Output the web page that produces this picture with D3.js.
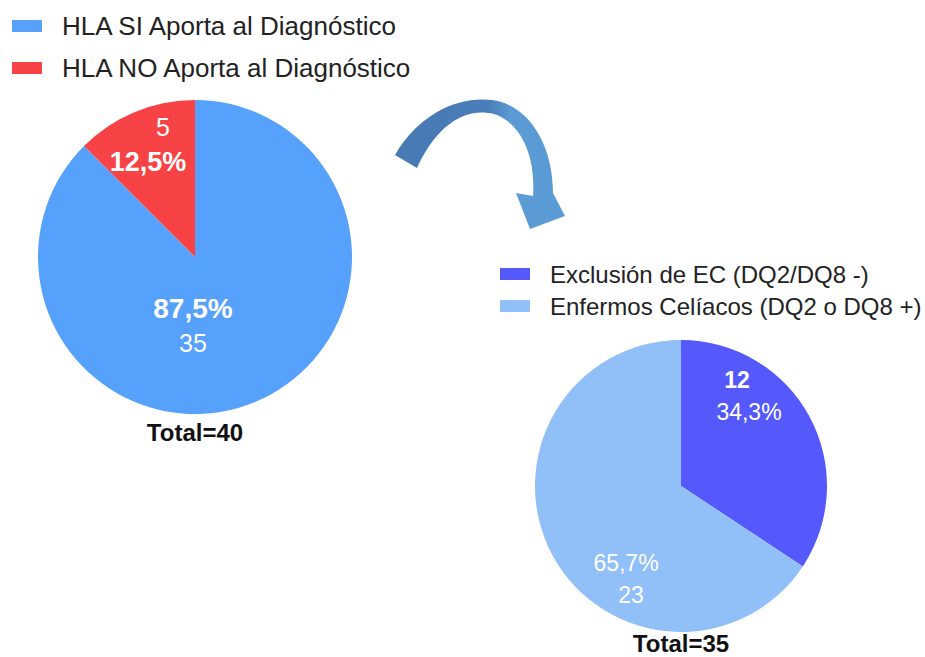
<!DOCTYPE html>
<html>
<head>
<meta charset="utf-8">
<script src="https://cdn.jsdelivr.net/npm/d3@7"></script>
<style>
  body { margin: 0; background: #ffffff; }
  svg text { font-family: "Liberation Sans", Arial, sans-serif; }
</style>
</head>
<body>
<svg id="chart"></svg>
<script>
// first pie: does HLA help the diagnosis
var hlaCategories = ["HLA SI Aporta al Diagnóstico", "HLA NO Aporta al Diagnóstico"];
var hlaValues = [35, 5];
var hlaColors = ["#55a1fc", "#f84346"];

// second pie: the 35 patients where HLA helped
var ecCategories = ["Exclusión de EC (DQ2/DQ8 -)", "Enfermos Celíacos (DQ2 o DQ8 +)"];
var ecValues = [12, 23];
var ecColors = ["#5558fb", "#91bff8"];

var width = 925;
var height = 657;

var svg = d3.select("#chart")
    .attr("width", width)
    .attr("height", height)

svg.append("rect")
    .attr("width", width)
    .attr("height", height)
    .attr("fill", "#ffffff")

var pctText = function(v, total)
{
    return (v / total * 100).toFixed(1).replace(".", ",") + "%";
}

// labels sit where the original put them, offsets from the pie centre
// order: "cp" = count then percent, "pc" = percent then count
var drawPie = function(values, colors, cx, cy, r, labelPos, totalY)
{
    var total = d3.sum(values);
    var pie = d3.pie().sort(null).value(function(d){ return d; });
    var arc = d3.arc().innerRadius(0).outerRadius(r);
    var g = svg.append("g").attr("transform", "translate(" + cx + "," + cy + ")");

    var slices = pie(values);
    g.selectAll("path")
        .data(slices)
        .enter()
        .append("path")
        .attr("d", arc)
        .attr("fill", function(d, i){ return colors[i]; })

    slices.forEach(function(s, i)
    {
        var lp = labelPos[i];
        var lines = lp.order == "cp"
            ? [String(s.data), pctText(s.data, total)]
            : [pctText(s.data, total), String(s.data)];
        lines.forEach(function(t, j)
        {
            g.append("text")
                .attr("x", lp.pts[j][0])
                .attr("y", lp.pts[j][1])
                .attr("text-anchor", "middle")
                .attr("dominant-baseline", "central")
                .attr("fill", "#ffffff")
                .attr("font-size", lp.size[j])
                .attr("font-weight", lp.bold[j] ? "bold" : "normal")
                .text(t)
        })
    })

    svg.append("text")
        .attr("x", cx)
        .attr("y", totalY)
        .attr("text-anchor", "middle")
        .attr("dominant-baseline", "central")
        .attr("font-size", 24)
        .attr("font-weight", "bold")
        .attr("fill", "#111111")
        .text("Total=" + total)
}

var drawLegend = function(categories, colors, x, y, step, fontSize)
{
    categories.forEach(function(c, i)
    {
        svg.append("rect")
            .attr("x", x)
            .attr("y", y + i * step - 6)
            .attr("width", 30)
            .attr("height", 12)
            .attr("fill", colors[i])
        svg.append("text")
            .attr("x", x + 50)
            .attr("y", y + i * step)
            .attr("dominant-baseline", "central")
            .attr("font-size", fontSize)
            .attr("fill", "#222222")
            .text(c)
    })
}

drawLegend(hlaCategories, hlaColors, 12, 26, 42, 26);
drawPie(hlaValues, hlaColors, 195, 257, 157, [
    { order: "pc", pts: [[-2, 51], [-2, 86]], size: [28, 25], bold: [true, false] },
    { order: "cp", pts: [[-32, -130], [-47, -95]], size: [25, 27], bold: [false, true] }
], 432);

drawLegend(ecCategories, ecColors, 500, 274, 32, 24);
drawPie(ecValues, ecColors, 681, 486, 146, [
    { order: "cp", pts: [[56, -106], [68, -74]], size: [23, 23], bold: [true, false] },
    { order: "pc", pts: [[-55, 77], [-50, 109]], size: [23, 23], bold: [false, false] }
], 643);

// curved arrow between the two pies
var grad = svg.append("defs").append("linearGradient")
    .attr("id", "arrowGrad")
    .attr("gradientUnits", "userSpaceOnUse")
    .attr("x1", 395).attr("y1", 0)
    .attr("x2", 565).attr("y2", 0)
grad.append("stop").attr("offset", "0%").attr("stop-color", "#4779b3")
grad.append("stop").attr("offset", "55%").attr("stop-color", "#4a7eba")
grad.append("stop").attr("offset", "68%").attr("stop-color", "#5b9bd5")
grad.append("stop").attr("offset", "100%").attr("stop-color", "#5b9bd5")

svg.append("path")
    .attr("d", "M395,155 C420,112 460,96 492,100 C525,104 553,140 553,193"
        + " L565,216 L530,229 L516,193 L533,196"
        + " C536,155 520,122 494,114 C462,106 434,130 417,168 Z")
    .attr("fill", "url(#arrowGrad)")
</script>
</body>
</html>
